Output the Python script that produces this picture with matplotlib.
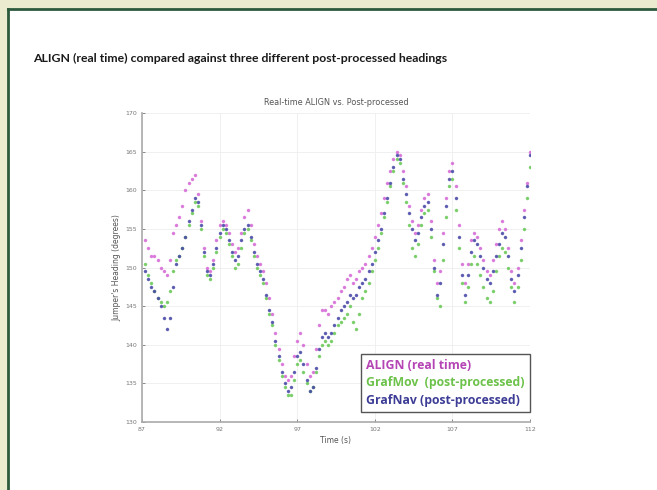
import matplotlib
matplotlib.use('Agg')
import matplotlib.pyplot as plt
from matplotlib.patches import Rectangle
import numpy as np

# heading samples every 0.2 s, starting at t = 87.2 s
t_start = 87.2
t_step = 0.2

align = [153.5, 152.5, 151.5, 151.5, 151, 150, 149.5, 149, 151, 154.5,
         155.5, 156.5, 158, 160, 161, 161.5, 162, 159.5, 156, 152.5,
         150, 149.5, 151, 153.5, 155.5, 156, 155.5, 154.5, 153, 152,
         152.5, 154.5, 156.5, 157.5, 155.5, 153, 151.5, 150.5, 149.5, 148,
         146, 144, 141.5, 139.5, 137.5, 136, 135.5, 136, 138.5, 140.5,
         141.5, 140, 137.5, 136, 136.5, 139.5, 142.5, 144.5, 144.5, 144,
         145, 145.5, 146, 147, 147.5, 148.5, 149, 148, 148.5, 149.5,
         150, 150.5, 151.5, 152.5, 154, 155.5, 157, 159, 161, 162.5,
         164, 165, 164.5, 162.5, 160.5, 158, 156, 154.5, 155.5, 157.5,
         159, 159.5, 156, 151, 148, 149.5, 154.5, 159, 162.5, 163.5,
         160.5, 155.5, 150.5, 148, 150.5, 153.5, 154.5, 154, 152.5, 151,
         149.5, 149, 151, 153, 155, 156, 155, 152.5, 149.5, 148,
         150, 153.5, 157.5, 161, 165]

grafmov = [150.5, 149, 148, 147, 146, 145.5, 145, 145.5, 147, 149.5,
           151, 151.5, 152.5, 154, 155.5, 157, 158.5, 158, 155, 151.5,
           149, 148.5, 150, 152, 154, 155, 154.5, 153, 151.5, 150,
           150.5, 152.5, 154.5, 155, 153.5, 151.5, 150, 149, 148, 146,
           144, 142.5, 140, 138, 136, 134.5, 133.5, 133.5, 135.5, 137.5,
           138, 136.5, 135, 134, 134.5, 136.5, 138.5, 140, 140.5, 140,
           140.5, 141.5, 142.5, 143, 143.5, 144, 145, 143, 142, 144,
           146, 147, 148, 149.5, 151, 152.5, 154.5, 156.5, 158.5, 160.5,
           162.5, 164, 163.5, 161, 158.5, 155.5, 152.5, 151.5, 153, 155.5,
           157, 157.5, 154, 149.5, 146, 145, 151, 156.5, 160.5, 161.5,
           157.5, 152.5, 148, 145.5, 147.5, 150.5, 151.5, 150.5, 149, 147.5,
           146, 145.5, 147, 149.5, 151.5, 152.5, 152, 150, 147.5, 145.5,
           147.5, 151, 155, 159, 163]

grafnav = [149.5, 148.5, 147.5, 147, 146, 145, 143.5, 142, 143.5, 147.5,
           150.5, 151.5, 152.5, 154, 156, 157.5, 159, 158.5, 155.5, 152,
           149.5, 149, 150.5, 152.5, 154.5, 155.5, 155, 153.5, 152, 151,
           151.5, 153.5, 155, 155.5, 154, 152, 150.5, 149.5, 148.5, 146.5,
           144.5, 143, 140.5, 138.5, 136.5, 135, 134, 134.5, 136.5, 138.5,
           139, 137.5, 135.5, 134, 134.5, 137, 139.5, 141, 141.5, 141,
           141.5, 142.5, 143.5, 144.5, 145, 145.5, 146.5, 146, 146.5, 147.5,
           148, 148.5, 149.5, 150.5, 152, 153.5, 155, 157, 159, 161,
           163, 164.5, 164, 161.5, 159.5, 157, 155, 153.5, 154.5, 156.5,
           158, 158.5, 155, 150, 146.5, 148, 153, 158, 161.5, 162.5,
           159, 154, 149, 146.5, 149, 152, 153.5, 153, 151.5, 150,
           148.5, 148, 149.5, 151.5, 153, 154.5, 154, 151.5, 148.5, 147,
           149, 152.5, 156.5, 160.5, 164.5]

series_names = ['ALIGN (real time)', 'GrafMov  (post-processed)', 'GrafNav (post-processed)']
point_colors = ['#d66bd6', '#6cc95a', '#4a4aa8']
text_colors = ['#b545b5', '#6cc24a', '#3d3d96']

x_ticks = [87, 92, 97, 102, 107, 112]
y_ticks = [130, 135, 140, 145, 150, 155, 160, 165, 170]

fig = plt.figure(figsize=(6.57, 4.90), dpi=100)
fig.patch.set_facecolor('#ebebd0')

# white panel with dark green edge (behind the axes)
fig.patches.append(Rectangle((8 / 657, 0), 1, 1 - 9 / 490, transform=fig.transFigure,
                             facecolor='white', edgecolor='none', zorder=-5))
fig.add_artist(plt.Line2D([8 / 657, 1], [1 - 9 / 490] * 2, transform=fig.transFigure,
                          color='#2d5a3d', lw=2))
fig.add_artist(plt.Line2D([8 / 657] * 2, [0, 1 - 9 / 490], transform=fig.transFigure,
                          color='#2d5a3d', lw=2))

fig.text(33 / 657, 1 - 58 / 490,
         'ALIGN (real time) compared against three different post-processed headings',
         fontsize=8.8, fontweight='bold', family='Lato', color='#1a1a1a', va='center')

ax = fig.add_axes([142 / 657, 1 - 422 / 490, 388 / 657, 309 / 490])
ax.set_facecolor('none')

series = [align, grafmov, grafnav]
for vals, c in zip(series, point_colors):
    tt = t_start + t_step * np.arange(len(vals))
    ax.plot(tt, vals, linestyle='none', marker='.', markersize=3, color=c, alpha=0.8)

ax.set_xlim(87, 112)
ax.set_ylim(130, 170)
ax.set_xticks(x_ticks)
ax.set_yticks(y_ticks)
ax.tick_params(labelsize=4.5, colors='#777777', direction='in', length=2, width=0.6)
ax.grid(True, color='#eeeeee', lw=0.6)
for s in ['top', 'right']:
    ax.spines[s].set_visible(False)
for s in ['left', 'bottom']:
    ax.spines[s].set_color('#aaaaaa')
    ax.spines[s].set_linewidth(1.2)

ax.set_title('Real-time ALIGN vs. Post-processed', fontsize=5.9, color='#555555', pad=6)
ax.set_xlabel('Time (s)', fontsize=5.5, color='#555555', labelpad=3)
ax.set_ylabel("Jumper's Heading (degrees)", fontsize=5.5, color='#555555', labelpad=3)

handles = [plt.Line2D([], [], linestyle='none') for _ in series_names]
leg = ax.legend(handles, series_names, loc='lower right', bbox_to_anchor=(1.0, 0.032),
                borderaxespad=0, handlelength=0, handletextpad=0, borderpad=0.45,
                labelspacing=0.35, fancybox=False, edgecolor='#555555', framealpha=1,
                prop={'family': 'Open Sans', 'weight': 'bold', 'size': 8.8})
for txt, c in zip(leg.get_texts(), text_colors):
    txt.set_color(c)

fig.savefig('out.png', dpi=100, facecolor=fig.get_facecolor())
